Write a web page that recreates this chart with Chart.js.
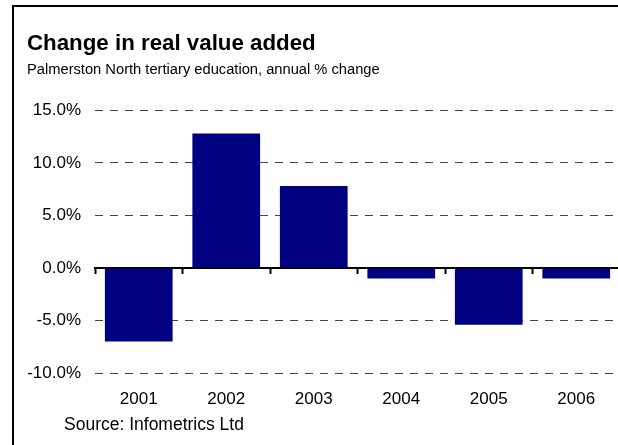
<!DOCTYPE html>
<html>
<head>
<meta charset="utf-8">
<script src="https://cdn.jsdelivr.net/npm/chart.js@4/dist/chart.umd.min.js"></script>
<style>
  html, body { margin: 0; padding: 0; background: #fff; overflow: hidden; width: 618px; height: 445px; }
  #frame { position: absolute; left: 12px; top: 5px; width: 700px; height: 500px;
           border-left: 2px solid #000; border-top: 2px solid #000; }
  #chart { position: absolute; left: 0; top: 0; }
  #source { position: absolute; left: 64px; top: 416px; font: 17.5px "Liberation Sans", Arial, sans-serif;
            line-height: 17.5px; color: #000; white-space: nowrap; }
</style>
</head>
<body>
<div id="frame"></div>
<canvas id="chart" width="620" height="445"></canvas>
<div id="source">Source: Infometrics Ltd</div>
<script>
const years = ['2001', '2002', '2003', '2004', '2005', '2006'];
const changePct = [-7.0, 12.8, 7.8, -1.0, -5.4, -1.0];
const titleText = 'Change in real value added';
const subtitleText = 'Palmerston North tertiary education, annual % change';

const FONT = '"Liberation Sans", Arial, sans-serif';

new Chart(document.getElementById('chart'), {
  type: 'bar',
  data: {
    labels: years,
    datasets: [{
      data: changePct,
      backgroundColor: '#000080',
      borderWidth: 0,
      barPercentage: 0.774,
      categoryPercentage: 1.0
    }]
  },
  options: {
    responsive: false,
    devicePixelRatio: 1,
    animation: false,
    layout: { padding: { left: 27, right: 0, top: 0, bottom: 19.5 } },
    plugins: {
      legend: { display: false },
      tooltip: { enabled: false },
      title: {
        display: true,
        text: titleText,
        align: 'start',
        color: '#000',
        font: { family: FONT, size: 22.3, weight: 'bold', lineHeight: 1.2 },
        padding: { top: 30, bottom: 4 }
      },
      subtitle: {
        display: true,
        text: subtitleText,
        align: 'start',
        color: '#000',
        font: { family: FONT, size: 14.7, lineHeight: 1.2 },
        padding: { top: 0, bottom: 32 }
      }
    },
    scales: {
      x: {
        type: 'category',
        position: 'bottom',
        offset: true,
        grid: { display: false, drawTicks: false },
        border: { display: false },
        ticks: { color: '#000', padding: 16, font: { family: FONT, size: 17 } }
      },
      // zero line with category boundary tick marks
      x2: {
        type: 'category',
        position: { y: 0 },
        offset: true,
        grid: {
          offset: true,
          drawOnChartArea: false,
          drawTicks: true,
          tickLength: 5,
          tickWidth: 2,
          tickColor: '#000'
        },
        border: { display: true, color: '#000', width: 2 },
        ticks: { display: false }
      },
      y: {
        min: -10,
        max: 15,
        afterFit: (scale) => { scale.width = 68; },
        grid: { color: '#444', lineWidth: 1, drawTicks: false },
        border: { display: false, dash: [8, 7] },
        ticks: {
          stepSize: 5,
          padding: 14,
          color: '#000',
          font: { family: FONT, size: 17 },
          callback: (v) => v.toFixed(1) + '%'
        }
      }
    }
  }
});
</script>
</body>
</html>
